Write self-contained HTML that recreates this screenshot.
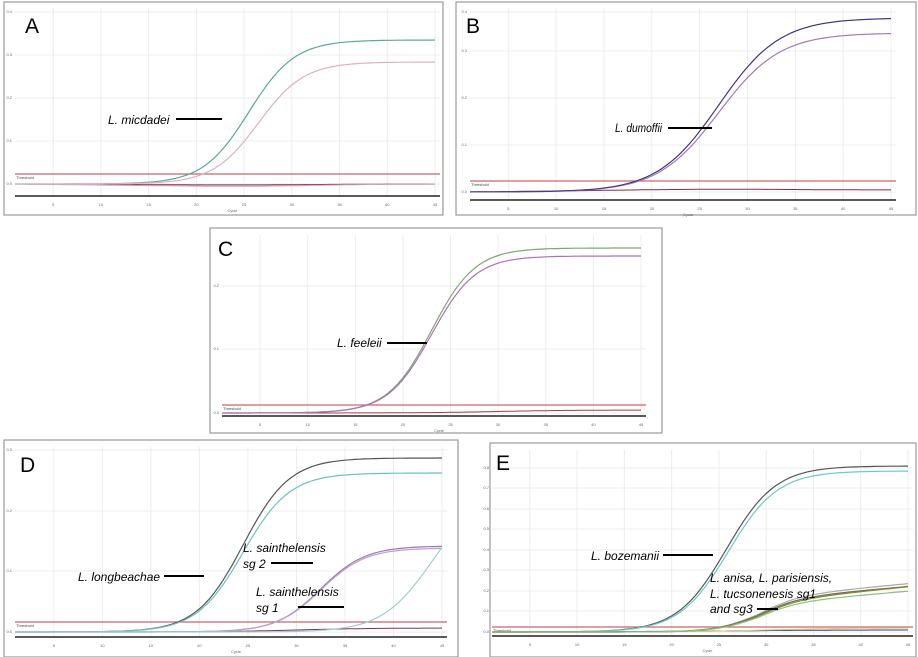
<!DOCTYPE html>
<html><head><meta charset="utf-8"><style>
body{margin:0;background:#fff;width:918px;height:657px;overflow:hidden}
svg{display:block}
text{font-family:"Liberation Sans",sans-serif}
.lab{font-family:"Liberation Sans",sans-serif;font-style:italic;font-size:12px;fill:#000}
</style></head><body>
<svg id="s" width="918" height="657" xmlns="http://www.w3.org/2000/svg"></svg>
<script>
const s=document.getElementById('s');let h='';
function panel(p){
 const {fx,fy,fw,fh,x0,x1,y0,y1,base,thr,letter,lx,ly,curves,yt}=p;
 h+=`<rect x="${fx}" y="${fy}" width="${fw}" height="${fh}" fill="#fff" stroke="#9a9a9a" stroke-width="1.2"/>`;
 const X=c=>x0+(c-1)/44*(x1-x0-5);
 for(let c=5;c<=45;c+=5){h+=`<line x1="${X(c)}" y1="${y0}" x2="${X(c)}" y2="${y1}" stroke="#ececec"/>`;
  h+=`<text x="${X(c)}" y="${y1+10}" font-size="4" fill="#666" text-anchor="middle">${c}</text>`;}
 yt.forEach((y,i)=>{h+=`<line x1="${x0}" y1="${y}" x2="${x1}" y2="${y}" stroke="#ececec"/><text x="${x0-3}" y="${y+1}" font-size="4" fill="#666" text-anchor="end">0.${i}</text>`});
 h+=`<line x1="${x0}" y1="${y1}" x2="${x1}" y2="${y1}" stroke="#222" stroke-width="1.5"/>`;
 h+=`<text x="${(x0+x1)/2}" y="${y1+16}" font-size="4" fill="#666">Cycle</text>`;
 h+=`<line x1="${x0}" y1="${thr}" x2="${x1}" y2="${thr}" stroke="#c9636a" stroke-width="1.2"/>`;
 h+=`<text x="${x0+1}" y="${thr+5}" font-size="4" fill="#444">Threshold</text>`;
 curves.forEach(cv=>{let d='';for(let c=1;c<=45;c+=0.5){const b=base+(cv.drift||0)*(c-1);const y=b-(b-cv.top)/(1+Math.exp(-(c-cv.mid)/cv.k))-(cv.lin||0)*Math.max(0,c-cv.mid);d+=(c==1?'M':'L')+X(c).toFixed(1)+','+y.toFixed(1);}
  h+=`<path d="${d}" fill="none" stroke="${cv.col}" stroke-width="${cv.w||1.2}"/>`;});
 h+=`<text x="${lx}" y="${ly}" font-size="21" fill="#000">${letter}</text>`;
}
function lab(x,y,t,lx1,lx2,ly,tl){h+=`<text class="lab" x="${x}" y="${y}"${tl?` textLength="${tl}" lengthAdjust="spacingAndGlyphs"`:''}>${t}</text>`;if(lx1)h+=`<line x1="${lx1}" y1="${ly}" x2="${lx2}" y2="${ly}" stroke="#000" stroke-width="2"/>`;}
panel({fx:4,fy:2,fw:439,fh:213,x0:15,x1:440,y0:8,y1:196,base:184,thr:174,letter:'A',lx:25,ly:33,yt:[184,141,98,55,12],
 curves:[{top:184,mid:30,k:4,col:'#7b3050',drift:0.05,w:1},{top:184,mid:30,k:4,col:'#d7a0b8',drift:0.12,w:1},{top:40,mid:25.5,k:2.4,col:'#5aa89a'},{top:62,mid:26.5,k:2.4,col:'#e0b0bc'}]});
lab(108,124,'L. micdadei',176,222,119);
panel({fx:456,fy:2,fw:460,fh:213,x0:470,x1:896,y0:8,y1:200,base:192,thr:181,letter:'B',lx:466,ly:33,yt:[192,145,98,51,12],
 curves:[{top:190,mid:30,k:4,col:'#7b3050',drift:-0.12,w:1},{top:18,mid:27,k:3.2,col:'#6a5a9a'},{top:33,mid:27,k:3.2,col:'#a07ab0'},{top:18,mid:27,k:3.2,col:'#3a2a80',w:0.8}]});
lab(615,132,'L. dumoffii',668,712,128,47);
panel({fx:210,fy:228,fw:452,fh:205,x0:222,x1:646,y0:235,y1:416,base:413,thr:405,letter:'C',lx:218,ly:256,yt:[413,349,286],
 curves:[{top:410,mid:30,k:4,col:'#a04040',drift:0,w:1},{top:248,mid:23,k:2.3,col:'#7aa870'},{top:256,mid:23,k:2.3,col:'#b070b8'}]});
lab(337,347,'L. feeleii',387,427,343);
panel({fx:4,fy:440,fw:454,fh:217,x0:15,x1:447,y0:447,y1:637,base:632,thr:622,letter:'D',lx:20,ly:472,yt:[632,571,511,450],
 curves:[{top:628,mid:30,k:4,col:'#8a3050',drift:0,w:1},{top:458,mid:24.5,k:2.4,col:'#555'},{top:473,mid:24.5,k:2.4,col:'#6cc0c0'},{top:546,mid:32.5,k:2.3,col:'#9a78b8'},{top:548,mid:32.5,k:2.3,col:'#c0a0c8'},{top:490,mid:44,k:2.6,col:'#9ad0d0'}]});
lab(78,581,'L. longbeachae',164,204,576);
lab(243,552,'L. sainthelensis',0,0,0);lab(243,568,'sg 2',271,313,563);
lab(256,596,'L. sainthelensis',0,0,0);lab(256,612,'sg 1',298,344,607);
panel({fx:490,fy:443,fw:426,fh:214,x0:492,x1:913,y0:450,y1:636,base:632,thr:627,letter:'E',lx:496,ly:470,yt:[632,611,591,570,550,529,509,488,468],
 curves:[{top:630,mid:30,k:4,col:'#3a3a8a',drift:-0.03,w:1},{top:628,mid:30,k:4,col:'#d8d070',drift:0,w:1},{top:466,mid:25.8,k:2.6,col:'#555'},{top:471,mid:26,k:2.6,col:'#6cc8cc'},
 {top:598,mid:29,k:2.2,col:'#aaa',lin:0.9},{top:600,mid:29,k:2.2,col:'#6a6a6a',lin:0.85},{top:602,mid:29,k:2.2,col:'#8a8a20',lin:0.95},{top:604,mid:29,k:2.2,col:'#8ac080',lin:0.8}]});
lab(591,560,'L. bozemanii',663,713,555);
lab(710,582,'L. anisa, L. parisiensis,',0,0,0);lab(710,598,'L. tucsonenesis sg1',0,0,0);lab(710,613,'and sg3',757,778,609);
s.innerHTML=h;
</script>
</body></html>
